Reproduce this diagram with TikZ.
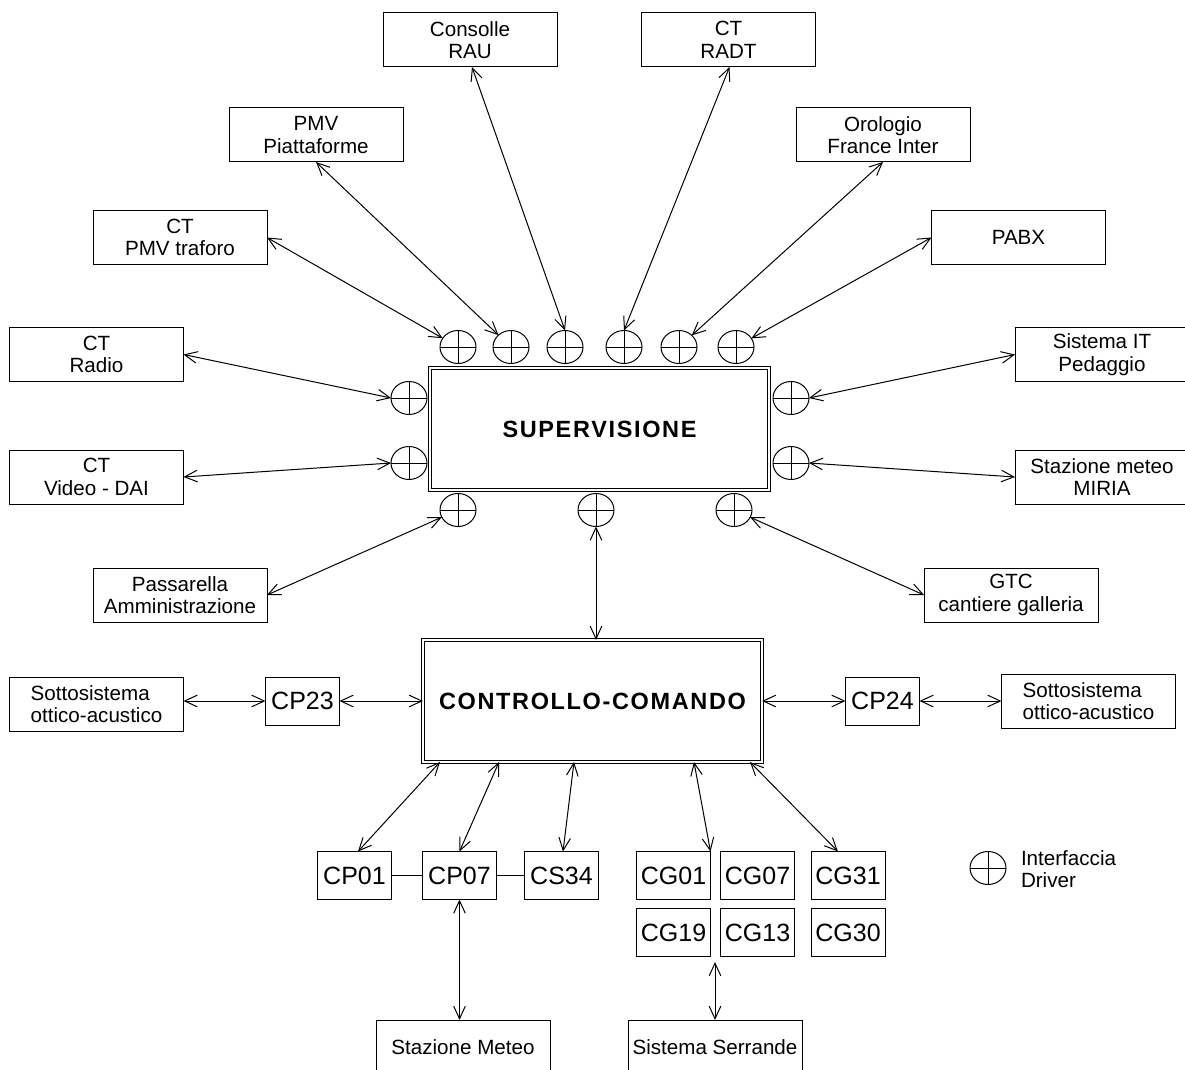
\documentclass[tikz,border=0pt]{standalone}
\usepackage{fontspec}
\setmainfont{Liberation Sans}
\newfontfamily\titlefont[LetterSpace=7]{Liberation Sans}
\usetikzlibrary{shapes.geometric,arrows.meta,calc}
\begin{document}
\begin{tikzpicture}[x=0.5pt,y=-0.5pt,
  every node/.style={inner sep=0pt, outer sep=0pt},
  box/.style={draw, line width=0.5pt, minimum width=87pt, minimum height=27pt, align=center, font=\fontsize{10.3}{11.3}\selectfont},
  sbox/.style={draw, line width=0.5pt, minimum width=37pt, minimum height=24pt, font=\fontsize{12.5}{14}\selectfont},
  mainbox/.style={draw, line width=0.5pt, double, double distance=1pt, minimum width=169.5pt, minimum height=61pt, font=\titlefont\bfseries\fontsize{11.75}{14}\selectfont},
  drv/.style={draw, ellipse, line width=0.5pt, minimum width=18pt, minimum height=16.5pt,
    path picture={\draw[line width=0.5pt] (path picture bounding box.north) -- (path picture bounding box.south)
      (path picture bounding box.west) -- (path picture bounding box.east);}},
  link/.style={line width=0.5pt, {Straight Barb[length=6.3pt,width=5.8pt]}-{Straight Barb[length=6.3pt,width=5.8pt]}},
  plain/.style={line width=0.5pt}
]
\path[use as bounding box, clip] (0,0) rectangle (1185,1070);

% outer boxes
\node[box] (rau)  at (470,40)    {Consolle\\RAU};
\node[box] (radt) at (728.5,40)  {CT\\RADT};
\node[box] (pmvp) at (316,135)   {PMV\\Piattaforme};
\node[box] (oro)  at (883,135)   {Orologio\\France Inter};
\node[box] (pmvt) at (180,237.5) {CT\\PMV traforo};
\node[box] (pabx) at (1018.5,237.5) {PABX};
\node[box] (ctr)  at (96.5,354.5) {CT\\Radio};
\node[box] (sit)  at (1102,354.5) {Sistema IT\\Pedaggio};
\node[box] (ctv)  at (96.5,477)  {CT\\Video - DAI};
\node[box] (mir)  at (1102,477)  {Stazione meteo\\MIRIA};
\node[box] (pas)  at (180,595)   {Passarella\\Amministrazione};
\node[box] (gtc)  at (1011,595)  {GTC\\cantiere galleria};

% main boxes
\node[mainbox] (sup) at (599.5,429) {SUPERVISIONE};
\node[mainbox] (cc)  at (592.5,701) {CONTROLLO-COMANDO};

% driver interfaces
\node[drv] (t1) at (458,347) {};
\node[drv] (t2) at (511,347) {};
\node[drv] (t3) at (565,347) {};
\node[drv] (t4) at (624,347) {};
\node[drv] (t5) at (679,347) {};
\node[drv] (t6) at (736,347) {};
\node[drv] (l1) at (409,398) {};
\node[drv] (l2) at (409,463) {};
\node[drv] (r1) at (791,398) {};
\node[drv] (r2) at (791,463) {};
\node[drv] (b1) at (458,510) {};
\node[drv] (b2) at (596,510) {};
\node[drv] (b3) at (734,510) {};

% connectors supervisione
\draw[link] (pmvt.east) -- (t1);
\draw[link] (pmvp.south) -- (t2);
\draw[link] ($(rau.south)+(2,0)$) -- (t3.north);
\draw[link] ($(radt.south)+(1,0)$) -- (t4.north);
\draw[link] (oro.south) -- (t5);
\draw[link] (pabx.west) -- (t6);
\draw[link] (ctr.east) -- (l1.west);
\draw[link] (ctv.east) -- (l2.west);
\draw[link] (sit.west) -- (r1.east);
\draw[link] (mir.west) -- (r2.east);
\draw[link] (pas.east) -- (b1);
\draw[link] (gtc.west) -- (b3);
\draw[link] (b2.south) -- (b2.south |- cc.north);

% side subsystems
\node[box, align=left] (sol) at (96.5,704) {Sottosistema\\ottico-acustico};
\node[sbox] (cp23) at (302.5,701) {CP23};
\node[sbox] (cp24) at (882.5,701) {CP24};
\node[box, align=left] (sor) at (1088.5,701) {Sottosistema\\ottico-acustico};
\draw[link] (sol.east |- cp23.west) -- (cp23.west);
\draw[link] (cp23.east) -- (cp23.east -| cc.west);
\draw[link] (cc.east |- cp24.west) -- (cp24.west);
\draw[link] (cp24.east) -- (sor.west |- cp24.east);

% bottom controllers
\node[sbox] (cp01) at (354.5,875.5) {CP01};
\node[sbox] (cp07) at (459.5,875.5) {CP07};
\node[sbox] (cs34) at (561.5,875.5) {CS34};
\node[sbox] (cg01) at (673.5,875.5) {CG01};
\node[sbox] (cg07) at (757.5,875.5) {CG07};
\node[sbox] (cg31) at (848,875.5)   {CG31};
\node[sbox] (cg19) at (673.5,932.5) {CG19};
\node[sbox] (cg13) at (757.5,932.5) {CG13};
\node[sbox] (cg30) at (848,932.5)   {CG30};
\draw[plain] (cp01) -- (cp07);
\draw[plain] (cp07) -- (cs34);

\draw[link] ($(cc.south)+(-152.5,0)$) -- ($(cp01.north)+(3.5,0)$);
\draw[link] ($(cc.south)+(-93.5,0)$) -- (cp07.north);
\draw[link] ($(cc.south)+(-18.5,0)$) -- ($(cs34.north)+(1.5,0)$);
\draw[link] ($(cc.south)+(101.5,0)$) -- (cg01.north east);
\draw[link] ($(cc.south)+(157.5,0)$) -- ($(cg31.north)+(-10,0)$);

% lower stations
\node[box] (stm) at (463,1047) {Stazione Meteo};
\node[box] (sse) at (715,1047) {Sistema Serrande};
\draw[link] (cp07.south) -- (cp07.south |- stm.north);
\coordinate (sstop) at (715,962);
\draw[link] (sstop) -- (sstop |- sse.north);

% legend
\node[drv] (lg) at (988,868) {};
\node[anchor=west, align=left, font=\fontsize{10.3}{11.3}\selectfont] (lgt) at (1021,869) {Interfaccia\\Driver};
\end{tikzpicture}
\end{document}
